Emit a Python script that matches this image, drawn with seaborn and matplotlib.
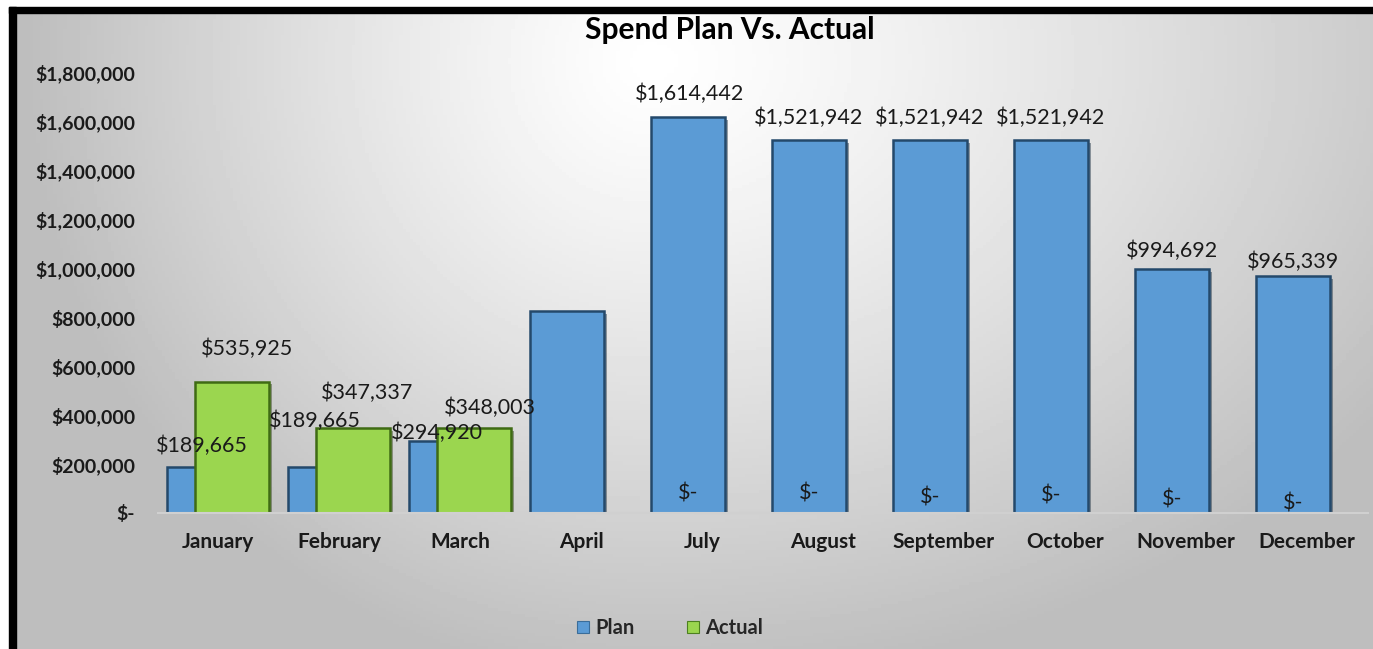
import numpy as np
import pandas as pd
import matplotlib
matplotlib.use("Agg")
import matplotlib.pyplot as plt
import matplotlib.patheffects as pe
from matplotlib.patches import Rectangle
from matplotlib.ticker import FuncFormatter
import seaborn as sns

# data
months = ["January", "February", "March", "April", "July",
          "August", "September", "October", "November", "December"]
plan = [189665, 189665, 294920, 825000, 1614442,
        1521942, 1521942, 1521942, 994692, 965339]
actual = [535925, 347337, 348003, 0, 0, 0, 0, 0, 0, 0]
plan_labels = ["$189,665", "$189,665", "$294,920", "", "$1,614,442",
               "$1,521,942", "$1,521,942", "$1,521,942", "$994,692", "$965,339"]
actual_labels = ["$535,925", "$347,337", "$348,003", "", "$-",
                 "$-", "$-", "$-", "$-", "$-"]

df = pd.DataFrame({"month": months, "Plan": plan, "Actual": actual})

W, H = 1373, 649
sns.set_theme(style="white")
plt.rcParams["font.family"] = ["Lato", "DejaVu Sans"]

fig = plt.figure(figsize=(W / 100, H / 100), dpi=100)
fig.patch.set_facecolor("white")

# gradient background like the Excel chart area
bg = fig.add_axes([16 / W, 0, 1 - 16 / W, 1 - 13 / H], zorder=-5)
xs = np.linspace(16, W, 400)
ys = np.linspace(13, H, 200)
X, Y = np.meshgrid(xs, ys)
cx, cy = 650, 60
dx = np.where(X < cx, (X - cx) / 700, (X - cx) / 1000)
dy = (Y - cy) / 700
d = np.clip(np.sqrt(dx ** 2 + dy ** 2), 0, 1.3)
v = np.clip(255 - 75 * d ** 1.2, 190, 255) / 255
bg.imshow(v, cmap="gray", vmin=0, vmax=1, aspect="auto",
          extent=[0, 1, 0, 1], origin="upper")
bg.axis("off")

# black frame on left and top
fig.patches.append(Rectangle((9 / W, 0), 7 / W, (H - 7) / H, color="black",
                             transform=fig.transFigure, figure=fig, zorder=10))
fig.patches.append(Rectangle((9 / W, 1 - 13 / H), 1 - 9 / W, 6 / H, color="black",
                             transform=fig.transFigure, figure=fig, zorder=10))

ax = fig.add_axes([157.5 / W, 1 - 513 / H, 1210 / W, (513 - 72) / H])
ax.set_facecolor("none")

blue = "#5b9bd5"
green = "#9bd64f"
shadow = [pe.SimplePatchShadow(offset=(2, -2), alpha=0.45), pe.Normal()]

bw = 0.61
shift = 0.116
sns.barplot(data=df, x="month", y="Plan", color=blue, width=bw,
            saturation=1, edgecolor="#24496b", linewidth=1.8, ax=ax)
n = len(months)
for p in ax.patches[:n]:
    p.set_x(p.get_x() - shift)
    p.set_path_effects(shadow)
sns.barplot(data=df, x="month", y="Actual", color=green, width=bw,
            saturation=1, edgecolor="#3f6b14", linewidth=1.8, ax=ax)
for p in ax.patches[n:]:
    p.set_x(p.get_x() + shift)
    p.set_path_effects(shadow)
    if p.get_height() == 0:
        p.set_visible(False)

ax.set_ylim(0, 1800000)
ax.set_xlim(-0.5, n - 0.5)
ax.set_yticks(np.arange(0, 1800001, 200000))
ax.yaxis.set_major_formatter(FuncFormatter(lambda val, _: "$-" if val == 0 else f"${val:,.0f}"))
ax.set_xlabel("")
ax.set_ylabel("")
for s in ["top", "right", "left"]:
    ax.spines[s].set_visible(False)
ax.spines["bottom"].set_color("#d0d0d0")
ax.spines["bottom"].set_linewidth(1.5)
ax.tick_params(axis="y", length=0, pad=16, labelsize=14)
ax.tick_params(axis="x", length=0, pad=14, labelsize=15)
for t in ax.get_xticklabels() + ax.get_yticklabels():
    t.set_fontweight("bold")
    t.set_color("#1a1a1a")

# data labels (pixel nudges from bar top centre)
plan_nudge = [(-2, 21), (-10, 46), (-9, 8), (0, 22), (2, 24),
              (0, 22), (0, 22), (0, 22), (0, 18), (0, 15)]
actual_nudge = [(15, 33), (14, 35), (16, 20), (-28, 18), (-28, 20),
                (-28, 20), (-28, 16), (-28, 18), (-28, 14), (-28, 10)]
for i in range(n):
    pp = ax.patches[i]
    if plan_labels[i]:
        ax.annotate(plan_labels[i], (pp.get_x() + pp.get_width() / 2, plan[i]),
                    xytext=(plan_nudge[i][0] * 0.72, plan_nudge[i][1] * 0.72),
                    textcoords="offset points", ha="center", va="center",
                    fontsize=15.5, color="#1a1a1a")
    pa = ax.patches[n + i]
    if actual_labels[i]:
        ax.annotate(actual_labels[i], (pa.get_x() + pa.get_width() / 2, actual[i]),
                    xytext=(actual_nudge[i][0] * 0.72, actual_nudge[i][1] * 0.72),
                    textcoords="offset points", ha="center", va="center",
                    fontsize=15.5, color="#1a1a1a")

fig.text(730 / W, 1 - 30 / H, "Spend Plan Vs. Actual", ha="center", va="center",
         fontsize=21.5, fontweight="bold", color="black")

handles = [Rectangle((0, 0), 1, 1, facecolor=blue, edgecolor="#3a6d9a", linewidth=0.8),
           Rectangle((0, 0), 1, 1, facecolor=green, edgecolor="#4d8020", linewidth=0.8)]
fig.legend(handles, ["Plan", "Actual"], loc="center", bbox_to_anchor=(0.488, 1 - 628 / H),
           ncol=2, frameon=False, handlelength=0.6, handleheight=0.6,
           handletextpad=0.3, columnspacing=2.6, prop={"weight": "bold", "size": 14.5})

fig.savefig("out.png", dpi=100)
